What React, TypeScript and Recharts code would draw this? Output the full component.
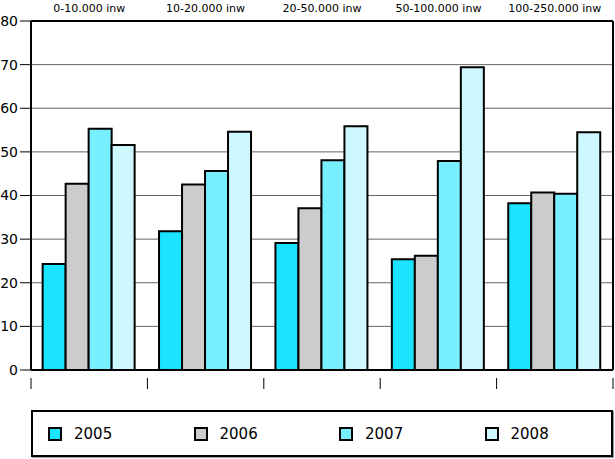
import React from "react";
import {
  BarChart,
  Bar,
  XAxis,
  YAxis,
  CartesianGrid,
} from "recharts";

const categories = [
  "0-10.000 inw",
  "10-20.000 inw",
  "20-50.000 inw",
  "50-100.000 inw",
  "100-250.000 inw",
];
const years = ["2005", "2006", "2007", "2008"];
const v2005 = [24.3, 31.8, 29.1, 25.4, 38.2];
const v2006 = [42.7, 42.5, 37.1, 26.2, 40.7];
const v2007 = [55.3, 45.6, 48.1, 47.9, 40.4];
const v2008 = [51.6, 54.6, 55.9, 69.4, 54.5];
const yTicks = [0, 10, 20, 30, 40, 50, 60, 70, 80];

const colors = ["#1ae4ff", "#cccccc", "#78efff", "#cef8ff"];
const font = "'DejaVu Sans', Verdana, sans-serif";

const data = categories.map((name, i) => ({
  name,
  y2005: v2005[i],
  y2006: v2006[i],
  y2007: v2007[i],
  y2008: v2008[i],
}));

const BAND = 582 / categories.length;

function BottomTick(props: any) {
  const { x, y, index } = props;
  const left = x - BAND / 2;
  return (
    <g>
      <line x1={left} x2={left} y1={y} y2={y + 11} stroke="#000" strokeWidth={1} />
      {index === categories.length - 1 && (
        <line x1={x + BAND / 2} x2={x + BAND / 2} y1={y} y2={y + 11} stroke="#000" strokeWidth={1} />
      )}
    </g>
  );
}

export default function App() {
  return (
    <div style={{ position: "absolute", left: 0, top: 0, width: 615, height: 459, background: "#fff", fontFamily: font }}>
      <BarChart
        width={615}
        height={459}
        data={data}
        margin={{ top: 0, right: 0, bottom: 78, left: 0 }}
        barCategoryGap="10%"
        barGap={0}
      >
        <CartesianGrid vertical={false} stroke="#666" strokeWidth={1} yAxisId="l" xAxisId="top" />
        <XAxis
          xAxisId="top"
          dataKey="name"
          orientation="top"
          height={21}
          axisLine={{ stroke: "#000", strokeWidth: 2 }}
          tickLine={false}
          tickSize={0}
          tickMargin={9}
          tick={{ fontSize: 11, fill: "#000", fontFamily: font }}
          interval={0}
        />
        <XAxis
          xAxisId="bottom"
          dataKey="name"
          orientation="bottom"
          height={11}
          axisLine={{ stroke: "#000", strokeWidth: 2 }}
          tickLine={false}
          tick={<BottomTick />}
          interval={0}
        />
        <YAxis
          yAxisId="l"
          domain={[0, 80]}
          ticks={yTicks}
          width={31}
          tickSize={11}
          tickMargin={2}
          axisLine={{ stroke: "#000", strokeWidth: 2 }}
          tickLine={{ stroke: "#000" }}
          tick={{ fontSize: 14, fill: "#000", fontFamily: font }}
        />
        <YAxis
          yAxisId="r"
          orientation="right"
          domain={[0, 80]}
          width={2}
          tick={false}
          tickLine={false}
          axisLine={{ stroke: "#000", strokeWidth: 2 }}
        />
        {years.map((yr, i) => (
          <Bar
            key={yr}
            dataKey={"y" + yr}
            name={yr}
            xAxisId="top"
            yAxisId="l"
            fill={colors[i]}
            stroke="#000"
            strokeWidth={2}
            isAnimationActive={false}
          />
        ))}
      </BarChart>
      <div
        style={{
          position: "absolute",
          left: 31,
          top: 410,
          width: 578,
          height: 43,
          border: "2px solid #000",
          boxShadow: "1px 1px 0 #999",
        }}
      >
        {years.map((yr, i) => (
          <div
            key={yr}
            style={{
              position: "absolute",
              left: 15 + i * 145.5,
              top: 13,
              display: "flex",
              alignItems: "center",
              fontSize: 15,
              color: "#000",
            }}
          >
            <span
              style={{
                display: "inline-block",
                width: 10,
                height: 10,
                border: "2px solid #000",
                background: colors[i],
                marginRight: 12,
              }}
            />
            <span>{yr}</span>
          </div>
        ))}
      </div>
    </div>
  );
}
